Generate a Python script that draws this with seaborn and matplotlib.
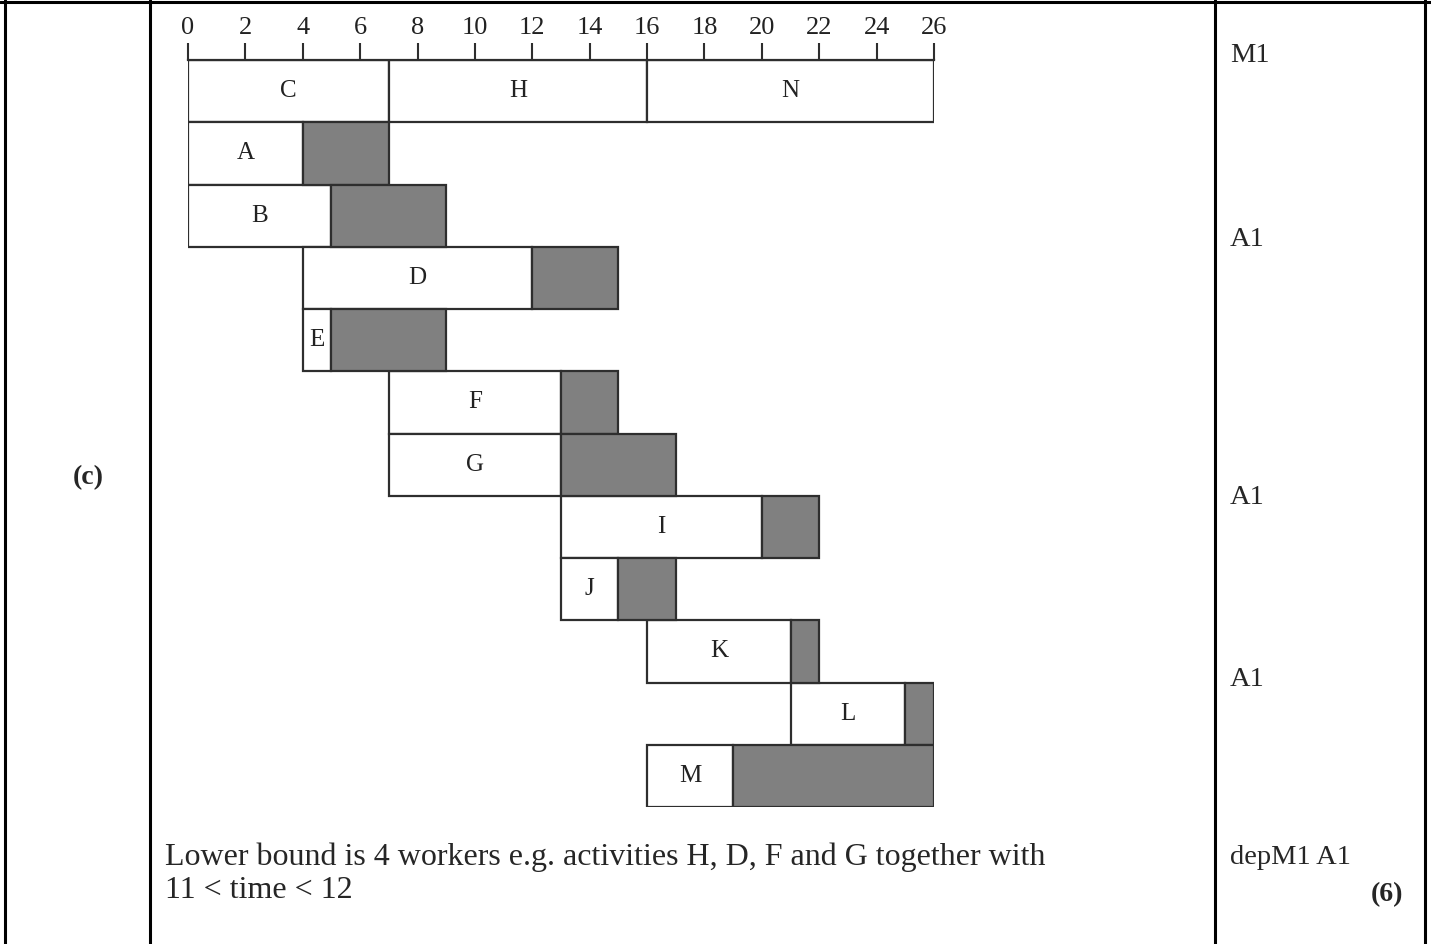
import matplotlib
matplotlib.use("Agg")
import matplotlib.pyplot as plt
import seaborn as sns
import pandas as pd

# activity data
activities = ["C", "H", "N", "A", "B", "D", "E", "F", "G", "I", "J", "K", "L", "M"]
rows = [0, 0, 0, 1, 2, 3, 4, 5, 6, 7, 8, 9, 10, 11]
starts = [0, 7, 16, 0, 0, 4, 4, 7, 7, 13, 13, 16, 21, 16]
durations = [7, 9, 10, 4, 5, 8, 1, 6, 6, 7, 2, 5, 4, 3]
floats = [0, 0, 0, 3, 4, 3, 4, 2, 4, 2, 2, 1, 1, 7]
xticks = list(range(0, 27, 2))

marks = ["M1", "A1", "A1", "A1", "depM1 A1"]
mark_y = [55, 240, 497, 680, 858]
note_lines = ["Lower bound is 4 workers e.g. activities H, D, F and G together with",
              "11 < time < 12"]

df = pd.DataFrame({"act": activities, "row": rows, "start": starts,
                   "dur": durations, "float": floats})
df["end"] = df["start"] + df["dur"]

sns.set_theme(style="white")
plt.rcParams["font.family"] = ["Liberation Serif", "DejaVu Serif"]

W, H = 1431, 944
fig = plt.figure(figsize=(W / 100, H / 100), dpi=100)

# table frame in pixel coords
tab = fig.add_axes([0, 0, 1, 1])
tab.set_xlim(0, W)
tab.set_ylim(H, 0)
tab.axis("off")
lw = 2.2
tab.plot([0, W], [2, 2], color="black", lw=lw)
for x in [5, 150, 1215, 1425]:
    tab.plot([x, x], [0, H], color="black", lw=lw)

tab.text(88, 478, "(c)", fontsize=20, fontweight="bold", ha="center", va="center")
for m, y in zip(marks, mark_y):
    tab.text(1230, y, m, fontsize=20.5, ha="left", va="center")
tab.text(1403, 895, "(6)", fontsize=20, fontweight="bold", ha="right", va="center")
tab.text(165, 857, note_lines[0], fontsize=23, ha="left", va="center")
tab.text(165, 891, note_lines[1], fontsize=23, ha="left", va="center")

# gantt chart
x0, x1, y0, y1 = 188, 934, 60, 807
ax = fig.add_axes([x0 / W, 1 - y1 / H, (x1 - x0) / W, (y1 - y0) / H])
ax.patch.set_alpha(0)
edge = "#2e2e2e"
ax.barh(df["row"], df["dur"], left=df["start"], height=1, color="white",
        edgecolor=edge, linewidth=1.6, align="edge")
fl = df[df["float"] > 0]
ax.barh(fl["row"], fl["float"], left=fl["end"], height=1, color="#808080",
        edgecolor=edge, linewidth=1.6, align="edge")
for _, r in df.iterrows():
    ax.text(r["start"] + r["dur"] / 2, r["row"] + 0.5, r["act"], fontsize=18,
            ha="center", va="center", color="#222222")

ax.set_xlim(0, 26)
ax.set_ylim(12, 0)
ax.xaxis.tick_top()
ax.set_xticks(xticks)
ax.set_yticks([])
ax.tick_params(axis="x", direction="out", length=12, width=1.5, color=edge,
               pad=3, labelsize=19, labelcolor="#222222", top=True, bottom=False)
for s in ["left", "right", "bottom"]:
    ax.spines[s].set_visible(False)
ax.spines["top"].set_color(edge)
ax.spines["top"].set_linewidth(1.6)

fig.savefig("out.png", dpi=100)
